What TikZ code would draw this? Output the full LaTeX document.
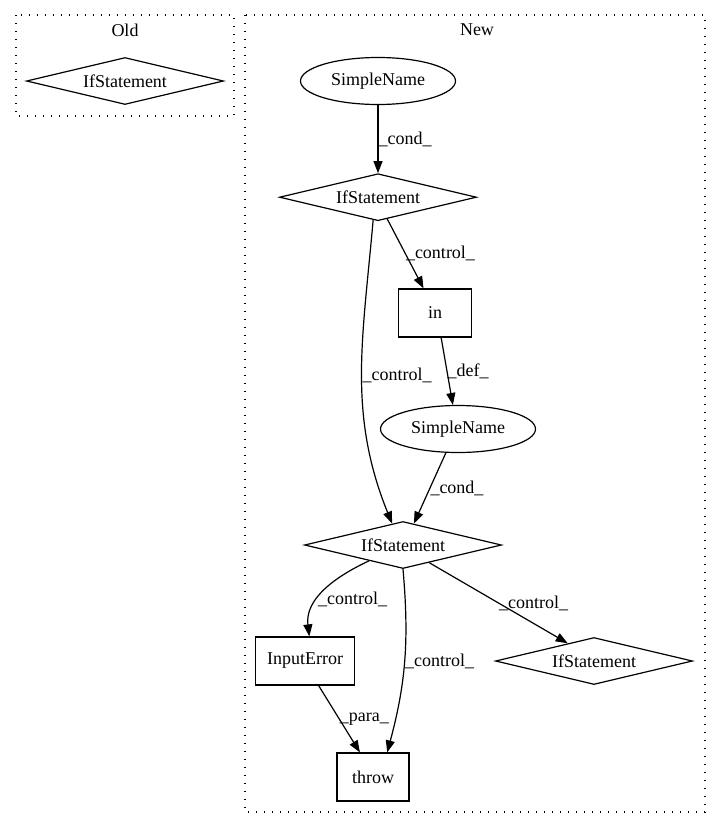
\documentclass[tikz,border=0pt]{standalone}
\usepackage{fontspec}
\setmainfont{Liberation Serif}
\usetikzlibrary{shapes.geometric, arrows.meta, positioning}

\tikzset{
  every node/.style={font=\fontsize{18}{20}\selectfont},
  ifnode/.style={draw, diamond, aspect=4.2, minimum width=197pt, minimum height=47pt, inner sep=0pt},
  namenode/.style={draw, ellipse, minimum width=155pt, minimum height=47pt, inner sep=0pt},
  opnode/.style={draw, rectangle, minimum height=48pt, inner sep=0pt},
  cluster/.style={draw, line width=1.4pt, dash pattern=on 1.4pt off 6.6pt},
  lbl/.style={anchor=west, inner sep=0pt, pos=0.5},
}

\begin{document}
\begin{tikzpicture}[x=1pt, y=1pt, line width=1.2pt]
        \useasboundingbox (0,0) rectangle (720,-828);

        % clusters
        \draw [cluster] (16,-15) rectangle (234,-116);
        \node (oldlbl) at (125,-30) {Old};
        \draw [cluster] (245,-15) rectangle (705,-812);
        \node (newlbl) at (477,-30) {New};

        \node (old) [ifnode] at (125,-81) {IfStatement};

        \node (sn1) [namenode] at (378,-81) {SimpleName};
        \node (if1) [ifnode, below=68pt of sn1] {IfStatement};
        \node (inop) [opnode, minimum width=73pt] at (435,-313) {in};
        \node (sn2) [namenode] at (458,-429) {SimpleName};
        \node (if2) [ifnode] at (403,-545) {IfStatement};
        \node (err) [opnode, minimum width=99pt] at (305,-661) {InputError};
        \node (if3) [ifnode] at (594,-661) {IfStatement};
        \node (throw) [opnode, minimum width=72pt] at (373,-777) {throw};

        \path [-{Triangle[length=12pt, width=9pt]}]
            (sn1) edge node[lbl] {\_cond\_} (if1)
            (if1.293) edge node[lbl] {\_control\_} (inop.115)
            (if1.258) edge[out=265, in=112] node[lbl] {\_control\_} (if2.117)
            (inop.284) edge node[lbl] {\_def\_} (sn2.102)
            (sn2.243) edge node[lbl] {\_cond\_} (if2.63)

            (if2.205) edge[out=205, in=97] node[lbl, pos=0.62] {\_control\_} (err.80)
            (if2.south) edge[out=-85, in=75] node[lbl] {\_control\_} (throw.60)
            (if2.326) edge node[lbl] {\_control\_} (if3.146)
            (err.299) edge node[lbl] {\_para\_} (throw.118);
\end{tikzpicture}
\end{document}
